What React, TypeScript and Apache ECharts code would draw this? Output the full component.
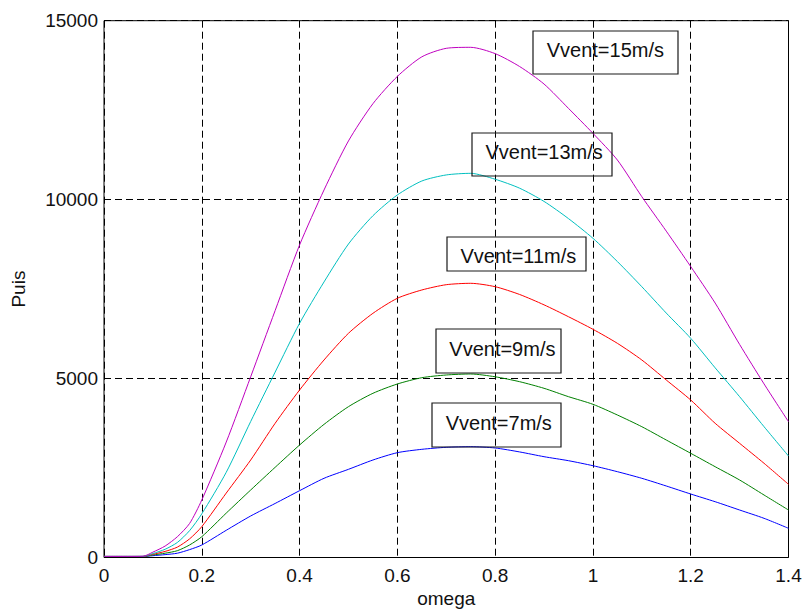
import React, { useEffect, useRef } from "react";
import * as echarts from "echarts";

const omega = [0, 0.05, 0.08, 0.1, 0.125, 0.15, 0.175, 0.2, 0.25, 0.3, 0.35, 0.4, 0.45, 0.5, 0.55, 0.6, 0.65, 0.7, 0.75, 0.8, 0.85, 0.9, 0.95, 1.0, 1.05, 1.1, 1.15, 1.2, 1.25, 1.3, 1.35, 1.4];

const p15 = [30, 30, 35, 150, 320, 580, 950, 1607, 3225, 5050, 6900, 8732, 10270, 11640, 12680, 13443, 13990, 14228, 14256, 14080, 13720, 13230, 12550, 11853, 11107, 10082, 9120, 8130, 7110, 5954, 4850, 3795];
const p13 = [30, 30, 32, 110, 230, 420, 750, 1220, 2380, 3800, 5180, 6544, 7700, 8760, 9550, 10130, 10520, 10690, 10735, 10570, 10320, 9950, 9470, 8920, 8270, 7567, 6830, 6125, 5300, 4494, 3655, 2836];
const p11 = [30, 30, 30, 90, 170, 290, 520, 862, 1800, 2724, 3750, 4680, 5519, 6265, 6823, 7243, 7475, 7623, 7662, 7567, 7350, 7060, 6728, 6377, 5985, 5519, 4960, 4401, 3750, 3191, 2632, 2045];
const p9 = [30, 30, 30, 70, 120, 190, 350, 581, 1240, 1886, 2520, 3143, 3720, 4215, 4588, 4848, 5024, 5100, 5128, 5050, 4913, 4728, 4494, 4281, 3982, 3655, 3283, 2912, 2537, 2166, 1746, 1327];
const p7 = [30, 30, 30, 50, 80, 120, 220, 349, 760, 1160, 1510, 1867, 2213, 2464, 2724, 2929, 3023, 3079, 3097, 3060, 2950, 2817, 2705, 2565, 2398, 2213, 1998, 1774, 1559, 1327, 1095, 816];

const seriesNames = ["Vvent=7m/s", "Vvent=9m/s", "Vvent=11m/s", "Vvent=13m/s", "Vvent=15m/s"];
const seriesValues = [p7, p9, p11, p13, p15];
const seriesColors = ["#0000FF", "#008000", "#FF0000", "#00BFBF", "#BF00BF"];

const yTicks = [0, 5000, 10000, 15000];

// annotation boxes (pixel layout): [boxX, boxY, boxW, boxH, textX, textY]
const boxLayout = [
  [432, 403, 129, 44, 445.7, 422.5],
  [436, 329, 125, 44, 449.3, 349.2],
  [447, 237, 139, 34, 460.5, 256.3],
  [472, 133, 140, 43, 485.5, 152.0],
  [533, 31, 145, 43, 546.7, 50.3],
];

const FONT = "'Liberation Sans', Arial, Helvetica, sans-serif";

export default function App() {
  const ref = useRef<HTMLDivElement>(null);
  useEffect(() => {
    if (!ref.current) return;
    const chart = echarts.init(ref.current, undefined, { renderer: "svg" });
    const graphics: any[] = [];
    boxLayout.forEach((b, i) => {
      graphics.push({
        type: "rect",
        shape: { x: b[0], y: b[1], width: b[2], height: b[3] },
        style: { fill: "none", stroke: "#1a1a1a", lineWidth: 1.2 },
        z: 10,
      });
      graphics.push({
        type: "text",
        x: b[4],
        y: b[5],
        style: {
          text: seriesNames[i],
          fill: "#111",
          font: `20px ${FONT}`,
          textAlign: "left",
          textVerticalAlign: "middle",
        },
        z: 11,
      });
    });
    chart.setOption({
      animation: false,
      backgroundColor: "#ffffff",
      grid: {
        left: 104,
        right: 15.5,
        top: 20.7,
        bottom: 54.5,
        show: true,
        borderColor: "#000",
        borderWidth: 1,
        backgroundColor: "transparent",
        containLabel: false,
        outerBoundsMode: "none",
        z: 3,
      },
      xAxis: {
        type: "value",
        min: 0,
        max: 1.4,
        interval: 0.2,
        name: "omega",
        nameLocation: "middle",
        nameGap: 31,
        nameTextStyle: { fontSize: 19, color: "#111", fontFamily: FONT },
        axisLine: { show: false },
        axisTick: { show: false },
        axisLabel: {
          fontSize: 19,
          color: "#111",
          fontFamily: FONT,
          margin: 8,
          formatter: (v: number) => String(Math.round(v * 10) / 10),
        },
        splitLine: { show: true, lineStyle: { color: "#000", type: [7, 4], width: 1 } },
      },
      yAxis: {
        type: "value",
        min: 0,
        max: 15000,
        interval: 5000,
        name: "Puis",
        nameLocation: "middle",
        nameRotate: 90,
        nameGap: 76,
        nameTextStyle: { fontSize: 19, color: "#111", fontFamily: FONT },
        axisLine: { show: false },
        axisTick: { show: false },
        axisLabel: {
          fontSize: 19,
          color: "#111",
          fontFamily: FONT,
          margin: 6,
          formatter: (v: number) => (yTicks.includes(v) ? String(v) : ""),
        },
        splitLine: { show: true, lineStyle: { color: "#000", type: [7, 4], width: 1 } },
      },
      series: seriesValues.map((vals, i) => ({
        name: seriesNames[i],
        type: "line",
        data: omega.map((x, j) => [x, vals[j]]),
        showSymbol: false,
        smooth: 0.25,
        lineStyle: { color: seriesColors[i], width: 1 },
        itemStyle: { color: seriesColors[i] },
        z: 5,
      })),
      graphic: graphics,
    });
    return () => chart.dispose();
  }, []);
  return (
    <div
      ref={ref}
      style={{ position: "fixed", left: 0, top: 0, width: 804, height: 612, background: "#fff" }}
    />
  );
}
